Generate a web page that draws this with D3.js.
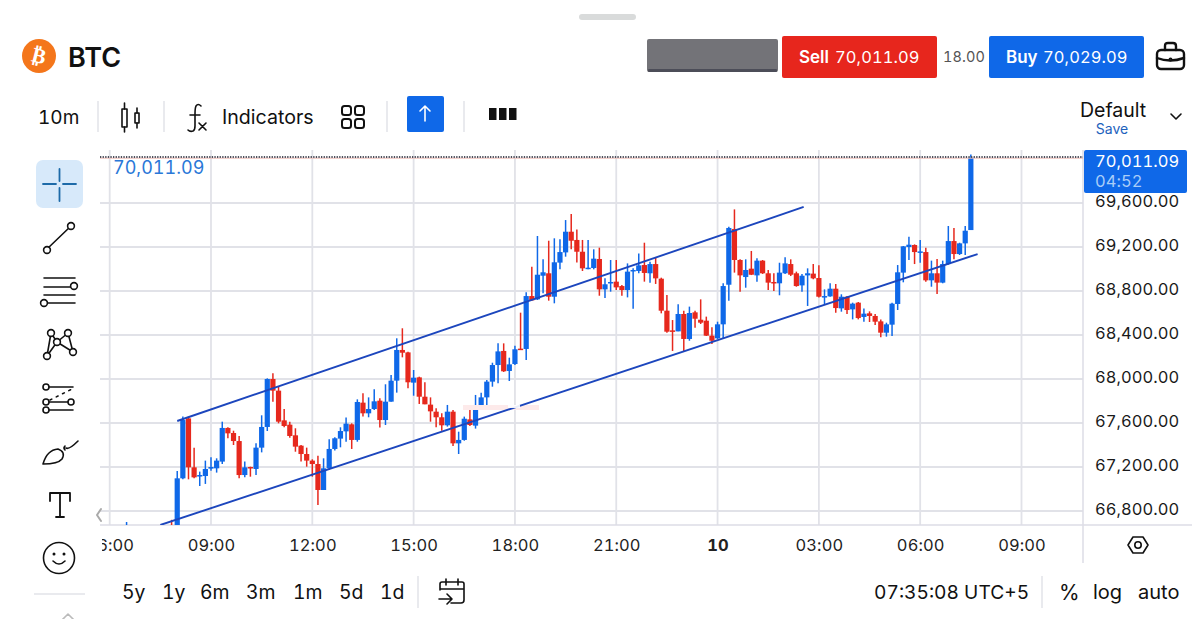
<!DOCTYPE html>
<html>
<head>
<meta charset="utf-8">
<script src="https://cdn.jsdelivr.net/npm/d3@7"></script>
<style>
  html, body { margin: 0; padding: 0; background: #fff; overflow: hidden; }
  svg { display: block; font-family: Inter, "Noto Sans", sans-serif; font-feature-settings: "tnum"; }
  .icon { fill: none; stroke: #111; stroke-width: 1.6; stroke-linecap: round; stroke-linejoin: round; }
  .sep { stroke: #e2e3e8; stroke-width: 1.5; }
</style>
</head>
<body>
<svg id="chart" width="1200" height="619"></svg>
<script>
// candles every 10 minutes starting 06:30, null = off the bottom of the chart
const opens = [66600, null, null, null, null, null, null, null,
  66660, 66540, 67097, 67642, 67197, 67118, 67118, 67185, 67188, 67249,
  67555, 67509, 67436, 67127, 67200, 67182, 67376, 67564, 68000, 67894,
  67624, 67585, 67488, 67394, 67318, 67258, 67227, 66991, 67188, 67364,
  67458, 67524, 67588, 67446, 67785, 67688, 67727, 67803, 67627, 67794,
  67985, 68264, 68242, 67967, 68015, 67839, 67767, 67703, 67652, 67579,
  67703, 67415, 67446, 67633, 67576, 67742, 67833, 67976, 68127, 68255,
  68073, 68136, 68276, 68273, 68754, 68724, 68939, 68961, 68748, 69058,
  69151, 69339, 69264, 69157, 69003, 69009, 69091, 68815, 68870, 68885,
  68845, 68809, 68985, 68982, 69036, 68961, 69045, 68912, 68621, 68442,
  68433, 68591, 68364, 68606, 68539, 68530, 68394, 68370, 68497, 68857,
  69364, 69082, 68927, 69003, 68942, 69076, 68961, 68882, 68870, 68961,
  69045, 68961, 68851, 68942, 68958, 68918, 68742, 68751, 68821, 68642,
  68748, 68633, 68694, 68564, 68597, 68573, 68524, 68421, 68494, 68682,
  68967, 69200, 69218, 69151, 69154, 68897, 68961, 68876, 69045, 69254,
  69136, 69233, 69354];
const highs = [66700, null, null, null, null, null, null, null,
  66720, 67164, 67658, 67658, 67376, 67158, 67258, 67288, 67279, 67612,
  67561, 67530, 67482, 67249, 67203, 67415, 67670, 68006, 68052, 67930,
  67727, 67612, 67552, 67400, 67376, 67270, 67303, 67279, 67452, 67470,
  67561, 67649, 67597, 67815, 67870, 67833, 67906, 67824, 67952, 68036,
  68370, 68461, 68248, 68082, 68021, 67970, 67833, 67733, 67688, 67764,
  67718, 67521, 67658, 67718, 67855, 67876, 67991, 68148, 68324, 68324,
  68194, 68303, 68603, 68788, 69021, 69300, 69088, 69257, 69279, 69270,
  69445, 69500, 69360, 69264, 69264, 69179, 69194, 68915, 69082, 69082,
  68854, 69051, 69006, 69142, 69239, 69067, 69106, 68921, 68764, 68536,
  68679, 68621, 68658, 68621, 68724, 68567, 68470, 68521, 68870, 69385,
  69542, 69088, 69088, 69164, 69097, 69082, 68991, 68961, 69057, 69106,
  69088, 68976, 68955, 69006, 69045, 69033, 68815, 68870, 68864, 68770,
  68754, 68694, 68700, 68642, 68615, 68591, 68542, 68512, 68694, 69036,
  69209, 69294, 69224, 69264, 69194, 69076, 69091, 69076, 69391, 69373,
  69239, 69391, 70040];
const lows = [66590, null, null, null, null, null, null, null,
  66590, 66530, 67088, 67088, 67097, 67027, 67046, 67167, 67149, 67227,
  67461, 67400, 67097, 67106, 67112, 67127, 67333, 67527, 67794, 67597,
  67561, 67467, 67339, 67249, 67203, 67112, 66855, 66991, 67173, 67349,
  67379, 67430, 67364, 67430, 67658, 67652, 67718, 67558, 67582, 67794,
  67876, 68197, 67915, 67848, 67773, 67770, 67612, 67561, 67530, 67567,
  67391, 67318, 67439, 67573, 67549, 67742, 67764, 67930, 67961, 68064,
  67982, 68127, 68264, 68173, 68712, 68718, 68779, 68712, 68688, 68997,
  69112, 69179, 69058, 68982, 68997, 68997, 68757, 68736, 68794, 68809,
  68757, 68742, 68639, 68961, 68885, 68876, 68864, 68597, 68421, 68255,
  68433, 68248, 68348, 68467, 68500, 68391, 68318, 68364, 68370, 68712,
  68967, 68794, 68830, 68945, 68885, 68955, 68809, 68800, 68761, 68955,
  68936, 68839, 68794, 68664, 68906, 68742, 68682, 68748, 68603, 68612,
  68591, 68542, 68542, 68521, 68518, 68491, 68379, 68385, 68391, 68627,
  68879, 69082, 69045, 69057, 68885, 68839, 68773, 68870, 69039, 69088,
  69127, 69127, 69354];
const closes = [66650, null, null, null, null, null, null, null,
  66600, 67097, 67627, 67197, 67106, 67127, 67182, 67200, 67258, 67555,
  67506, 67436, 67127, 67197, 67191, 67376, 67564, 68000, 67894, 67612,
  67573, 67482, 67385, 67318, 67258, 67227, 66991, 67188, 67364, 67461,
  67527, 67594, 67446, 67791, 67688, 67727, 67797, 67627, 67794, 67985,
  68264, 68239, 67970, 68012, 67839, 67770, 67706, 67652, 67579, 67703,
  67415, 67446, 67639, 67582, 67742, 67833, 67976, 68127, 68251, 68070,
  68133, 68270, 68264, 68754, 68715, 68948, 68970, 68748, 69061, 69154,
  69339, 69257, 69157, 69006, 69012, 69094, 68815, 68861, 68882, 68833,
  68809, 68976, 68991, 69033, 68964, 69045, 68915, 68621, 68430, 68433,
  68591, 68364, 68600, 68548, 68512, 68394, 68348, 68497, 68845, 69373,
  69082, 68942, 68991, 68948, 69076, 68961, 68876, 68873, 68967, 69051,
  68948, 68845, 68939, 68961, 68915, 68748, 68754, 68821, 68645, 68748,
  68627, 68685, 68554, 68594, 68573, 68521, 68421, 68497, 68685, 68970,
  69206, 69221, 69154, 69160, 68897, 68961, 68876, 69045, 69254, 69136,
  69233, 69348, 70011.09];

const priceTicks = [66800, 67200, 67600, 68000, 68400, 68800, 69200, 69600];
const timeTicks = ["06:00", "09:00", "12:00", "15:00", "18:00", "21:00", "10", "03:00", "06:00", "09:00"];
const ranges = ["5y", "1y", "6m", "3m", "1m", "5d", "1d"];
const lastPrice = 70011.09;
// channel lines: [candle number, price]
const upperChannel = [[9, 67618], [120.3, 69564]];
const lowerChannel = [[6, 66673], [151.2, 69136]];

const BLUE = "#0f68e8", RED = "#e6281d", GRID = "#e1e2e8";
const svg = d3.select("#chart");
const plot = { left: 100, right: 1083, top: 150, bottom: 525 };

const t0 = new Date(2024, 2, 9, 6, 30);
const candleTime = i => d3.timeMinute.offset(t0, i * 10);
const x = d3.scaleTime()
  .domain([new Date(2024, 2, 9, 9, 0), new Date(2024, 2, 10, 9, 0)])
  .range([211, 1021.5]);
const y = d3.scaleLinear().domain([66800, 69600]).range([511, 203]);

const candles = opens.map((o, i) => ({ i, o, h: highs[i], l: lows[i], c: closes[i] }))
  .filter(d => d.o !== null);

svg.append("defs").append("clipPath").attr("id", "plot-clip").append("rect")
  .attr("x", plot.left).attr("y", plot.top)
  .attr("width", plot.right - plot.left).attr("height", plot.bottom - plot.top);

// axes and grid
const tickDates = timeTicks.map((_, i) => new Date(2024, 2, 9, 6 + i * 3, 0));
const xAxis = d3.axisBottom(x).tickValues(tickDates).tickSize(0).tickPadding(14)
  .tickFormat((d, i) => timeTicks[i]);
const yAxis = d3.axisRight(y).tickValues(priceTicks).tickSize(0).tickPadding(0)
  .tickFormat(d3.format(",.2f"));

const grid = svg.append("g").attr("clip-path", "url(#plot-clip)");
grid.selectAll(".h").data(priceTicks).join("line")
  .attr("x1", plot.left).attr("x2", plot.right)
  .attr("y1", d => y(d)).attr("y2", d => y(d))
  .attr("stroke", GRID).attr("stroke-width", 1.8);
grid.selectAll(".v").data(tickDates).join("line")
  .attr("x1", d => x(d)).attr("x2", d => x(d))
  .attr("y1", plot.top).attr("y2", plot.bottom)
  .attr("stroke", GRID).attr("stroke-width", 1.8);

const gx = svg.append("g").attr("transform", `translate(0,${plot.bottom})`).call(xAxis);
gx.select(".domain").remove();
gx.selectAll("text").attr("font-size", 16.5).attr("fill", "#222")
  .attr("font-family", "Inter").attr("letter-spacing", 0.1)
  .attr("font-weight", (d, i) => timeTicks[i] === "10" ? 700 : 400);
// the 06:00 label runs off the left of the plot
svg.append("rect").attr("x", 70).attr("y", 527).attr("width", 32).attr("height", 34).attr("fill", "#fff");

const gy = svg.append("g").attr("transform", "translate(1095,0)").call(yAxis);
gy.select(".domain").remove();
gy.selectAll("text").attr("font-size", 16.5).attr("fill", "#1a1a1a").attr("font-family", "Inter")
  .attr("dy", "0.3em").attr("letter-spacing", 0.05)
  .attr("transform", "translate(0,-1)");

svg.append("line").attr("x1", plot.left).attr("x2", 1192).attr("y1", plot.bottom).attr("y2", plot.bottom)
  .attr("stroke", "#dcdde6").attr("stroke-width", 1.5);
svg.append("line").attr("x1", plot.right).attr("x2", plot.right).attr("y1", plot.top).attr("y2", 563)
  .attr("stroke", "#dcdde6").attr("stroke-width", 1.5);

// candles and channel lines
const marks = svg.append("g").attr("clip-path", "url(#plot-clip)");
const channel = d3.line().x(d => x(candleTime(d[0]))).y(d => y(d[1]));

marks.selectAll(".wick").data(candles).join("line").attr("class", "wick")
  .attr("x1", d => x(candleTime(d.i))).attr("x2", d => x(candleTime(d.i)))
  .attr("y1", d => y(d.h)).attr("y2", d => y(d.l))
  .attr("stroke", d => d.c >= d.o ? BLUE : RED).attr("stroke-width", 1.5);
marks.selectAll(".body").data(candles).join("rect").attr("class", "body")
  .attr("x", d => x(candleTime(d.i)) - 2.6).attr("width", 5.2)
  .attr("y", d => y(Math.max(d.o, d.c)))
  .attr("height", d => Math.max(1.5, Math.abs(y(d.o) - y(d.c))))
  .attr("fill", d => d.c >= d.o ? BLUE : RED);

marks.append("rect").attr("x", 463).attr("y", 405).attr("width", 76).attr("height", 5).attr("fill", "#fdeaea");
[upperChannel, lowerChannel].forEach(pts => {
  marks.append("path").attr("d", channel(pts)).attr("fill", "none")
    .attr("stroke", "#1c46bd").attr("stroke-width", 1.9);
});
marks.append("rect").attr("x", 508).attr("y", 405).attr("width", 12).attr("height", 3).attr("fill", "#fff").attr("opacity", 0.9);

// last price line and tag
svg.append("line").attr("x1", plot.left).attr("x2", plot.right)
  .attr("y1", y(lastPrice) + 0.4).attr("y2", y(lastPrice) + 0.4).attr("stroke", "#eebbb6").attr("stroke-width", 1);
svg.append("line").attr("x1", plot.left).attr("x2", plot.right)
  .attr("y1", y(lastPrice) - 0.9).attr("y2", y(lastPrice) - 0.9)
  .attr("stroke", "#4d505c").attr("stroke-width", 2).attr("stroke-dasharray", "1.3 1.3");
const fmt = d3.format(",.2f");
svg.append("text").attr("x", 113).attr("y", 174).attr("font-size", 18).attr("fill", "#2a78d8").text(fmt(lastPrice));
svg.append("rect").attr("x", 1084).attr("y", 150).attr("width", 103).attr("height", 43).attr("rx", 2).attr("fill", BLUE);
svg.append("text").attr("x", 1095).attr("y", 167).attr("font-size", 16.5).attr("fill", "#fff").attr("letter-spacing", 0.05).text(fmt(lastPrice));
svg.append("text").attr("x", 1095).attr("y", 187).attr("font-size", 16.5).attr("fill", "#a9cdf8").attr("letter-spacing", 0.05).text("04:52");

// page chrome
const label = (txt, lx, ly, size, opts = {}) => svg.append("text").attr("x", lx).attr("y", ly)
  .attr("font-size", size).attr("fill", opts.fill || "#111").attr("font-weight", opts.weight || 400)
  .attr("text-anchor", opts.anchor || "start").text(txt);
const sep = (sx, y1, y2) => svg.append("line").attr("class", "sep").attr("x1", sx).attr("x2", sx).attr("y1", y1).attr("y2", y2);
const icon = (tx, ty) => svg.append("g").attr("class", "icon").attr("transform", `translate(${tx},${ty})`);
const ring = (g, cx, cy, r = 3.4) => g.append("circle").attr("cx", cx).attr("cy", cy).attr("r", r).attr("fill", "#fff");
const draw = (g, d) => g.append("path").attr("d", d);

svg.append("rect").attr("x", 579).attr("y", 14).attr("width", 57).attr("height", 6).attr("rx", 3).attr("fill", "#d9dbdb");

svg.append("circle").attr("cx", 39).attr("cy", 56).attr("r", 17).attr("fill", "#f4761b");
label("₿", 39, 63, 21, { fill: "#fff", weight: 700, anchor: "middle" }).attr("font-family", "DejaVu Sans")
  .attr("transform", "rotate(14 39 56)");
label("BTC", 68, 67, 27, { weight: 600 });

svg.append("rect").attr("x", 647).attr("y", 39).attr("width", 131).attr("height", 33).attr("rx", 2).attr("fill", "#737378");
svg.append("rect").attr("x", 648).attr("y", 69).attr("width", 129).attr("height", 3).attr("rx", 1).attr("fill", "#4c4d58");
svg.append("rect").attr("x", 782).attr("y", 36).attr("width", 155).attr("height", 42).attr("rx", 2).attr("fill", "#e7261d");
label("Sell", 799, 63, 17, { fill: "#fff", weight: 600 });
label("70,011.09", 835, 63, 16.5, { fill: "#fff" }).attr("letter-spacing", 0.1);
label("18.00", 943, 62, 14.5, { fill: "#555" }).attr("letter-spacing", 0.1);
svg.append("rect").attr("x", 989).attr("y", 36).attr("width", 155).attr("height", 42).attr("rx", 2).attr("fill", BLUE);
label("Buy", 1006, 63, 17, { fill: "#fff", weight: 600 });
label("70,029.09", 1043, 63, 16.5, { fill: "#fff" }).attr("letter-spacing", 0.1);

const bag = icon(1156, 42).style("stroke-width", 2.4);
bag.append("rect").attr("x", 1).attr("y", 8).attr("width", 27).attr("height", 19).attr("rx", 4);
draw(bag, "M9 8V4q0-3 3-3h5q3 0 3 3v4M1 16q13 5 27 0");
bag.append("circle").attr("cx", 14.5).attr("cy", 17.5).attr("r", 0.8);

label("10m", 38, 124, 19);
sep(98, 101, 132); sep(164, 101, 132); sep(387, 101, 132); sep(464, 101, 132);
const cnd = icon(121, 102);
cnd.append("rect").attr("x", 1).attr("y", 7).attr("width", 5).attr("height", 18);
cnd.append("rect").attr("x", 14).attr("y", 11).attr("width", 4).attr("height", 10);
draw(cnd, "M3.5 1V7M3.5 25V30M16 6V11M16 21V26");
const fx = icon(187, 102);
draw(fx, "M14 4q-3-3-5 0q-1 2-1 8v12q0 4-2 5q-3 1-5-1M3 13h10M12 21l7 7M19 21l-7 7");
label("Indicators", 222, 124, 19.6);
const tiles = icon(341, 105).style("stroke-width", 2);
[[1, 1], [14, 1], [1, 14], [14, 14]].forEach(p => tiles.append("rect")
  .attr("x", p[0]).attr("y", p[1]).attr("width", 9).attr("height", 9).attr("rx", 2.5));
svg.append("rect").attr("x", 407).attr("y", 96).attr("width", 37).attr("height", 36).attr("rx", 2).attr("fill", BLUE);
draw(icon(425, 106).style("stroke", "#fff"), "M0 15V0M-5 5L0 0L5 5");
[489, 499, 509].forEach(bx => svg.append("rect").attr("x", bx).attr("y", 108).attr("width", 7.5).attr("height", 12).attr("fill", "#111"));
label("Default", 1080, 117, 19.5);
label("Save", 1112, 134, 14, { fill: "#1d62bd", anchor: "middle" });
draw(icon(1171, 114), "M0 0L5 5L10 0");

// left tool column
svg.append("rect").attr("x", 36).attr("y", 160).attr("width", 47).attr("height", 48).attr("rx", 7).attr("fill", "#d7e9fa");
draw(icon(43, 168).style("stroke", "#1d6aa8").style("stroke-width", 1.8), "M0 16H13M20 16H33M16.5 1V13M16.5 20V33");
const lineTool = icon(0, 0);
draw(lineTool, "M47 249L71 226");
ring(lineTool, 47, 250); ring(lineTool, 71, 226);
const fibTool = icon(0, 0);
draw(fibTool, "M44 278H75M44 287H72M44 295H75M48 303H75");
ring(fibTool, 74, 286); ring(fibTool, 44, 303);
const netTool = icon(0, 0);
draw(netTool, "M51 333L47 356L57 342L51 333M57 342L68 333L73 352L57 342");
[[51, 333], [47, 356], [57, 342], [68, 333], [73, 352]].forEach(p => ring(netTool, p[0], p[1]));
const dotTool = icon(0, 0);
draw(dotTool, "M46 387H73M46 402H71M46 410H73");
draw(dotTool.append("g").attr("stroke-dasharray", "2 5"), "M50 400L72 389");
[[46, 387], [46, 402], [71, 402], [46, 410]].forEach(p => ring(dotTool, p[0], p[1], 3));
const brush = icon(0, 0);
draw(brush, "M43 464Q47 450 58 449Q66 452 62 459Q58 464 43 464M65 450q-2-2 0-4M66 448q3 2 12-7");
const typeTool = icon(0, 0);
draw(typeTool, "M50 501V493H70V501M60 493V516M56 517H64").style("stroke-width", 1.8);
const face = icon(59, 558);
face.append("circle").attr("r", 15.5);
face.append("circle").attr("cx", -5).attr("cy", -4).attr("r", 0.7);
face.append("circle").attr("cx", 5).attr("cy", -4).attr("r", 0.7);
draw(face, "M-6 3Q0 9 6 3");
svg.append("line").attr("class", "sep").attr("x1", 34).attr("x2", 85).attr("y1", 594).attr("y2", 594);
draw(icon(62, 616).style("stroke", "#bbb"), "M0 4L6 -2L12 4");
draw(icon(96, 509).style("stroke", "#aaa").style("stroke-width", 2), "M5 0L1 6L5 12");

const hex = icon(1128, 536).style("stroke-width", 1.6);
draw(hex, "M0 9L5 1H15L20 9L15 17H5Z");
hex.append("circle").attr("cx", 10).attr("cy", 9).attr("r", 3.2);

// bottom row
const rangeX = [122, 162, 200, 246, 293, 339, 380];
ranges.forEach((r, i) => label(r, rangeX[i], 599, 19.4));
sep(418, 576, 608);
const cal = icon(438, 578);
draw(cal, "M2 12V6Q2 4 4 4H24Q26 4 26 6V22Q26 25 23 25H13M2 11H26M8 1V7M20 1V7M1 21H13M9 16L14 21L9 26");
label("07:35:08 UTC+5", 874, 599, 19.2);
sep(1042, 576, 608);
label("%", 1059, 600, 21);
label("log", 1093, 599, 20);
label("auto", 1138, 599, 20);
</script>
</body>
</html>
